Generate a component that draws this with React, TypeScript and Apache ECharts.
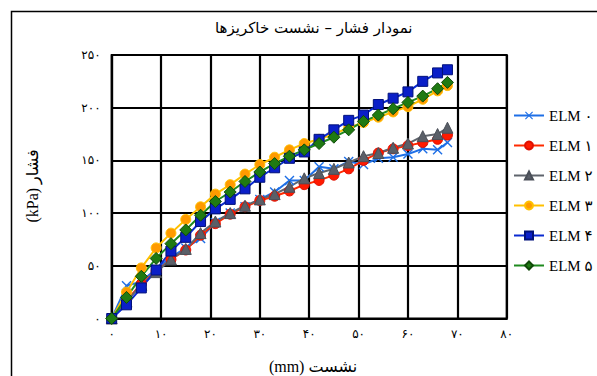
import React, { useEffect, useRef } from "react";
import * as echarts from "echarts";

// settlement (mm) at each reading
const settlementMm = [0, 3, 6, 9, 12, 15, 18, 21, 24, 27, 30, 33, 36, 39, 42, 45, 48, 51, 54, 57, 60, 63, 66, 68];

// pressure (kPa) per embankment model
const elm0 = [0, 31, 35, 47, 58, 67, 76, 91, 100, 106, 113, 120, 131, 131, 144, 142, 149, 146, 152, 153, 156, 161, 160, 167];
const elm1 = [0, 17, 33, 45, 56, 65, 79, 90, 99, 106, 112, 116, 121, 127, 131, 136, 142, 150, 157, 161, 164, 167, 170, 174];
const elm2 = [0, 16, 32, 44, 56, 66, 81, 92, 100, 107, 113, 118, 125, 133, 138, 142, 148, 154, 157, 162, 166, 173, 175, 181];
const elm3 = [0, 25, 48, 67, 81, 94, 106, 118, 127, 137, 146, 153, 160, 166, 170, 175, 181, 186, 191, 196, 201, 208, 216, 221];
const elm4 = [0, 13, 29, 46, 64, 77, 92, 104, 113, 123, 134, 143, 152, 158, 170, 179, 188, 193, 203, 209, 215, 225, 233, 236];
const elm5 = [0, 20, 40, 57, 71, 84, 98, 111, 120, 130, 139, 147, 154, 160, 166, 172, 179, 187, 193, 199, 205, 211, 218, 224];

const seriesNames = ["ELM ۰", "ELM ۱", "ELM ۲", "ELM ۳", "ELM ۴", "ELM ۵"];

const titleText = "نمودار فشار – نشست خاکریزها";
const yAxisTitle = "(kPa) فشار";
const xAxisTitle = "(mm) نشست";

const persianDigits = "۰۱۲۳۴۵۶۷۸۹";
const toPersian = (v: number) => String(v).replace(/\d/g, (d) => persianDigits[Number(d)]);

const pairs = (ys: number[]) => ys.map((y, i) => [settlementMm[i], y]);

const crossPath =
  "path://M0,1L1,0L5,4L9,0L10,1L6,5L10,9L9,10L5,6L1,10L0,9L4,5Z";

export default function App() {
  const ref = useRef<HTMLDivElement>(null);

  useEffect(() => {
    if (!ref.current) return;
    const chart = echarts.init(ref.current, undefined, { renderer: "svg" });

    const mk = (
      name: string,
      ys: number[],
      lineColor: string,
      symbol: string,
      symbolSize: number,
      fill: string,
      border: string,
      borderWidth: number
    ) => ({
      name,
      type: "line",
      data: pairs(ys),
      symbol,
      symbolSize,
      showAllSymbol: true,
      lineStyle: { color: lineColor, width: 2 },
      itemStyle: { color: fill, borderColor: border, borderWidth },
      emphasis: { disabled: true },
    });

    chart.setOption({
      animation: false,
      backgroundColor: "#ffffff",
      grid: {
        left: 111.7,
        top: 55,
        right: 90.3,
        bottom: 57.5,
        show: true,
        borderColor: "#000",
        borderWidth: 2,
        backgroundColor: "transparent",
      },
      xAxis: {
        type: "value",
        min: 0,
        max: 80,
        interval: 10,
        axisLine: { show: true, lineStyle: { color: "#000", width: 2.2 } },
        axisTick: { show: false },
        splitLine: { show: true, lineStyle: { color: "#000", width: 2.2 } },
        axisLabel: {
          color: "#000",
          fontSize: 12,
          fontFamily: "'DejaVu Sans', sans-serif",
          margin: 9,
          formatter: (v: number) => toPersian(v),
        },
      },
      yAxis: {
        type: "value",
        min: 0,
        max: 250,
        interval: 50,
        axisLine: { show: true, lineStyle: { color: "#000", width: 2.2 } },
        axisTick: { show: false },
        splitLine: { show: true, lineStyle: { color: "#000", width: 2.2 } },
        axisLabel: {
          color: "#000",
          fontSize: 12,
          fontFamily: "'DejaVu Sans', sans-serif",
          margin: 11,
          formatter: (v: number) => toPersian(v),
        },
      },
      legend: {
        orient: "vertical",
        left: 508,
        top: 103,
        itemWidth: 30,
        itemHeight: 10,
        itemGap: 15,
        textStyle: {
          color: "#000",
          fontSize: 15,
          fontFamily: "'Liberation Serif', 'DejaVu Sans', serif",
        },
        data: seriesNames,
      },
      graphic: [
        {
          type: "rect",
          silent: true,
          shape: { x: 11.5, y: 11.5, width: 640, height: 420 },
          style: { fill: "none", stroke: "#000", lineWidth: 1.5 },
        },
        {
          type: "text",
          left: 215,
          top: 20,
          style: {
            text: titleText,
            fill: "#000",
            fontSize: 15,
            fontFamily: "'DejaVu Sans', serif",
          },
        },
        {
          type: "text",
          x: 32,
          y: 186,
          rotation: Math.PI / 2,
          style: {
            text: yAxisTitle,
            fill: "#000",
            fontSize: 16,
            fontFamily: "'Liberation Serif', 'DejaVu Sans', serif",
            align: "center",
            verticalAlign: "middle",
          },
        },
        {
          type: "text",
          x: 313,
          y: 366,
          style: {
            text: xAxisTitle,
            fill: "#000",
            fontSize: 16,
            fontFamily: "'Liberation Serif', 'DejaVu Sans', serif",
            align: "center",
            verticalAlign: "middle",
          },
        },
      ],
      series: [
        mk(seriesNames[0], elm0, "#1e6fe6", crossPath, 10, "#1e6fe6", "#1e6fe6", 0),
        mk(seriesNames[1], elm1, "#ff2a00", "circle", 10, "#ff1a00", "#e01000", 1),
        mk(seriesNames[2], elm2, "#5f646c", "triangle", 11, "#5a5f68", "#4a4f58", 1),
        mk(seriesNames[3], elm3, "#ffc000", "circle", 10, "#ff9a00", "#ffc000", 1),
        mk(seriesNames[4], elm4, "#0a2ad0", "rect", 10, "#0a1fc8", "#00107a", 1),
        mk(seriesNames[5], elm5, "#1f8a1f", "diamond", 12, "#1f7a12", "#0f4a08", 1),
      ],
    });

    return () => chart.dispose();
  }, []);

  return (
    <div
      ref={ref}
      style={{ position: "fixed", left: 0, top: 0, width: 597, height: 376 }}
    />
  );
}
